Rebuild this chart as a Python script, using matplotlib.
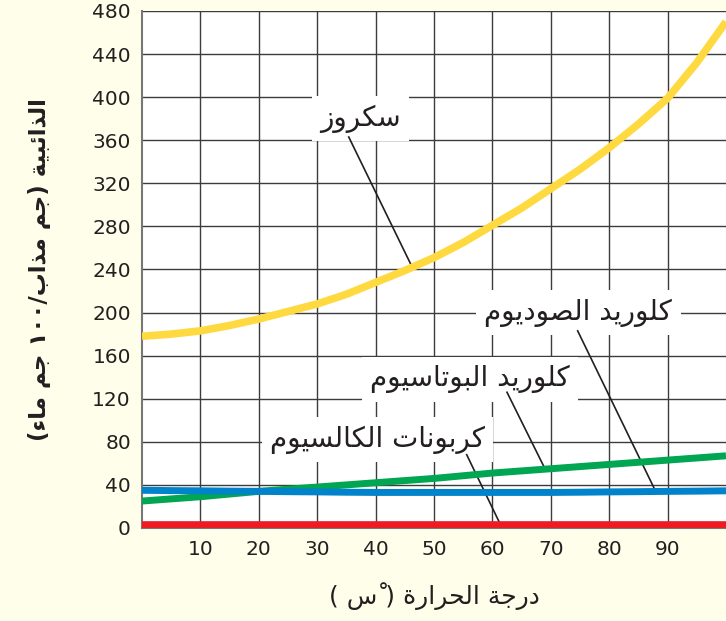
import matplotlib
matplotlib.use("Agg")
import matplotlib.pyplot as plt

# solubility (g solute / 100 g water)
temps = [0, 5, 10, 15, 20, 25, 30, 35, 40, 45, 50, 55, 60, 65, 70, 75, 80, 85, 90, 95, 100]
sucrose = [178, 180, 183, 188, 194, 201, 208, 217, 228, 239, 251, 265, 281, 297, 315, 333, 353, 375, 399, 432, 470]
kcl = [25, 27, 29, 31.5, 34, 36, 38, 40, 42, 44, 46, 48.5, 51, 53, 55, 57, 59, 61, 63, 65, 67]
nacl = [35, 34.7, 34.5, 34.2, 34, 33.7, 33.5, 33.2, 33, 33, 33, 33, 33, 33, 33, 33.2, 33.5, 33.7, 34, 34.2, 34.5]
caco3 = [3] * len(temps)

x_ticks = [10, 20, 30, 40, 50, 60, 70, 80, 90]
y_ticks = list(range(0, 481, 40))

# label text, label centre, leader start, leader end
labels = [
    ("سكروز", (37.4, 380), (35.4, 363), (46.1, 244)),
    ("كلوريد الصوديوم", (74.7, 200), (74.6, 183), (88.0, 33.5)),
    ("كلوريد البوتاسيوم", (56.2, 138), (62.5, 126), (69.0, 55)),
    ("كربونات الكالسيوم", (40.3, 82), (55.6, 68), (61.3, 4)),
]

# --- minimal arabic shaping (matplotlib does no shaping itself) ---
FORMS = {
    "ا": ("\ufe8d", "\ufe8e", None, None),
    "ب": ("\ufe8f", "\ufe90", "\ufe91", "\ufe92"),
    "ة": ("\ufe93", "\ufe94", None, None),
    "ت": ("\ufe95", "\ufe96", "\ufe97", "\ufe98"),
    "ج": ("\ufe9d", "\ufe9e", "\ufe9f", "\ufea0"),
    "ح": ("\ufea1", "\ufea2", "\ufea3", "\ufea4"),
    "د": ("\ufea9", "\ufeaa", None, None),
    "ذ": ("\ufeab", "\ufeac", None, None),
    "ر": ("\ufead", "\ufeae", None, None),
    "ز": ("\ufeaf", "\ufeb0", None, None),
    "س": ("\ufeb1", "\ufeb2", "\ufeb3", "\ufeb4"),
    "ص": ("\ufeb9", "\ufeba", "\ufebb", "\ufebc"),
    "ك": ("\ufed9", "\ufeda", "\ufedb", "\ufedc"),
    "ل": ("\ufedd", "\ufede", "\ufedf", "\ufee0"),
    "م": ("\ufee1", "\ufee2", "\ufee3", "\ufee4"),
    "ن": ("\ufee5", "\ufee6", "\ufee7", "\ufee8"),
    "و": ("\ufeed", "\ufeee", None, None),
    "ي": ("\ufef1", "\ufef2", "\ufef3", "\ufef4"),
    "ئ": ("\ufe89", "\ufe8a", "\ufe8b", "\ufe8c"),
}


def ar(text):
    chars = list(text)
    out = []
    for i, c in enumerate(chars):
        if c not in FORMS:
            out.append(c)
            continue
        f = FORMS[c]
        prev = chars[i - 1] if i > 0 else None
        nxt = chars[i + 1] if i + 1 < len(chars) else None
        jp = prev in FORMS and FORMS[prev][2] is not None
        jn = nxt in FORMS and f[2] is not None
        if jp and jn:
            out.append(f[3])
        elif jp:
            out.append(f[1])
        elif jn:
            out.append(f[2])
        else:
            out.append(f[0])
    out = out[::-1]
    # digits stay left-to-right, brackets get mirrored
    res, run = [], []
    for c in out:
        if c.isdigit():
            run.append(c)
            continue
        if run:
            res += run[::-1]
            run = []
        res.append({"(": ")", ")": "("}.get(c, c))
    res += run[::-1]
    return "".join(res)


plt.rcParams["font.family"] = ["DejaVu Sans"]

fig = plt.figure(figsize=(7.26, 6.21), dpi=100, facecolor="#fffeeb")
ax = fig.add_axes([0.1956, 0.1498, 0.8044, 0.8325])
ax.set_facecolor("white")

ax.plot(temps, sucrose, color="#ffd940", lw=5.5, solid_capstyle="butt", zorder=4)
ax.plot(temps, kcl, color="#00a651", lw=5, solid_capstyle="butt", zorder=4)
ax.plot(temps, nacl, color="#0083ca", lw=5, solid_capstyle="butt", zorder=5)
ax.plot(temps, caco3, color="#ed1c24", lw=5.5, solid_capstyle="butt", zorder=4)

for text, (tx, ty), p0, p1 in labels:
    ax.text(tx, ty, ar(text), fontsize=20, ha="center", va="center", color="#231f20",
            bbox=dict(facecolor="white", edgecolor="none", pad=6), zorder=3)
    ax.plot([p0[0], p1[0]], [p0[1], p1[1]], color="#231f20", lw=1.2, zorder=3.5)

ax.set_xlim(0, 100)
ax.set_ylim(0, 480)
ax.set_xticks(x_ticks)
ax.set_yticks(y_ticks)
ax.grid(True, color="#3c3c3c", lw=1.0, zorder=1)
ax.set_axisbelow(True)
ax.tick_params(length=0, labelsize=14.5, labelcolor="#231f20")
ax.tick_params(axis="x", pad=9)
ax.tick_params(axis="y", pad=8)

for side in ["top", "right"]:
    ax.spines[side].set_visible(False)
for side in ["left", "bottom"]:
    ax.spines[side].set_color("#777777")
    ax.spines[side].set_linewidth(1.5)

ax.set_xlabel(ar("درجة الحرارة ( ْس )"), fontsize=18, color="#231f20", labelpad=16)
ax.set_ylabel(ar("الذائبية (جم مذاب/١٠٠ جم ماء)"), fontsize=16.5, fontweight="bold",
              color="#231f20", labelpad=30)

fig.savefig("out.png", dpi=100, facecolor=fig.get_facecolor())
